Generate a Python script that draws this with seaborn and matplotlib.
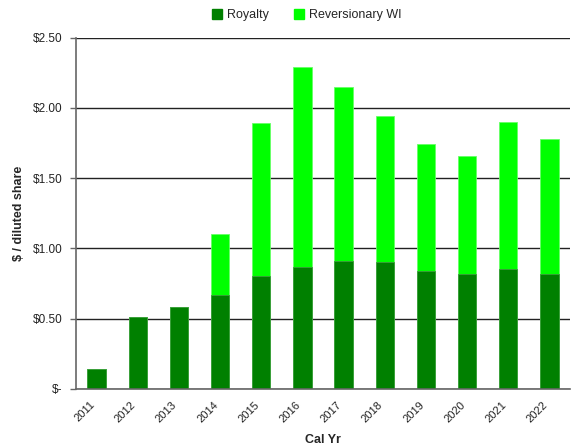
import matplotlib
matplotlib.use("Agg")
import matplotlib.pyplot as plt
import matplotlib.ticker as mticker
from matplotlib.patches import Patch
import numpy as np
import pandas as pd
import seaborn as sns

years = ["2011", "2012", "2013", "2014", "2015", "2016", "2017",
         "2018", "2019", "2020", "2021", "2022"]
royalty = [0.14, 0.51, 0.58, 0.67, 0.80, 0.87, 0.91, 0.90, 0.84, 0.82, 0.85, 0.82]
reversionary_wi = [0.00, 0.00, 0.00, 0.43, 1.09, 1.42, 1.24, 1.04, 0.90, 0.84, 1.05, 0.96]

dark_green = "#008000"
light_green = "#00FF00"

df = pd.DataFrame({"year": years, "royalty": royalty, "rwi": reversionary_wi})
df["total"] = df["royalty"] + df["rwi"]

sns.set_theme(style="white")
plt.rcParams["font.family"] = ["Liberation Sans", "DejaVu Sans"]

fig = plt.figure(figsize=(5.71, 4.47), dpi=100)
ax = fig.add_axes([76 / 571, 1 - 388.7 / 447, (570 - 76) / 571, (388.7 - 37.7) / 447])

# Stacked bars: the total drawn first, the royalty part on top of it
sns.barplot(data=df, x="year", y="total", color=light_green, saturation=1,
            width=0.445, edgecolor="#66ff66", linewidth=0.6, ax=ax)
sns.barplot(data=df, x="year", y="royalty", color=dark_green, saturation=1,
            width=0.445, edgecolor="#3d9a3d", linewidth=0.6, ax=ax)

ax.set_xlim(-0.5, len(years) - 0.5)
ax.set_ylim(0, 2.5)
ax.set_yticks([0, 0.5, 1.0, 1.5, 2.0, 2.5])
ax.yaxis.set_major_formatter(
    mticker.FuncFormatter(lambda v, p: "$-" if abs(v) < 1e-9 else f"${v:.2f}"))

ax.grid(axis="y", color="#222222", linewidth=1.0)
ax.set_axisbelow(True)
for s in ["top", "right"]:
    ax.spines[s].set_visible(False)
for s in ["left", "bottom"]:
    ax.spines[s].set_color("#666666")
    ax.spines[s].set_linewidth(1.2)

# Category labels at bar centres, tick marks at category boundaries
ax.set_xticks(np.arange(len(years)))
ax.set_xticklabels(years, rotation=45, ha="right")
ax.set_xticks(np.arange(len(years)) - 0.5, minor=True)
ax.tick_params(axis="x", which="major", length=0, labelsize=8, pad=8, colors="#222222")
ax.tick_params(axis="x", which="minor", length=4, width=1, color="#666666", direction="out")
ax.tick_params(axis="y", length=4, width=1, color="#666666", direction="out",
               labelsize=8.5, colors="#222222", left=True, pad=6)

ax.set_xlabel("Cal Yr", fontsize=9, fontweight="bold", labelpad=7)
ax.set_ylabel("$ / diluted share", fontsize=9, fontweight="bold", labelpad=5)

handles = [Patch(facecolor=dark_green, edgecolor=dark_green, label="Royalty"),
           Patch(facecolor=light_green, edgecolor=light_green, label="Reversionary WI")]
fig.legend(handles=handles, loc="center", bbox_to_anchor=(307 / 571, 1 - 15 / 447),
           ncol=2, frameon=False, fontsize=9, handlelength=0.8, handleheight=0.8,
           handletextpad=0.4, columnspacing=2.0)

fig.savefig("out.png", dpi=100)
